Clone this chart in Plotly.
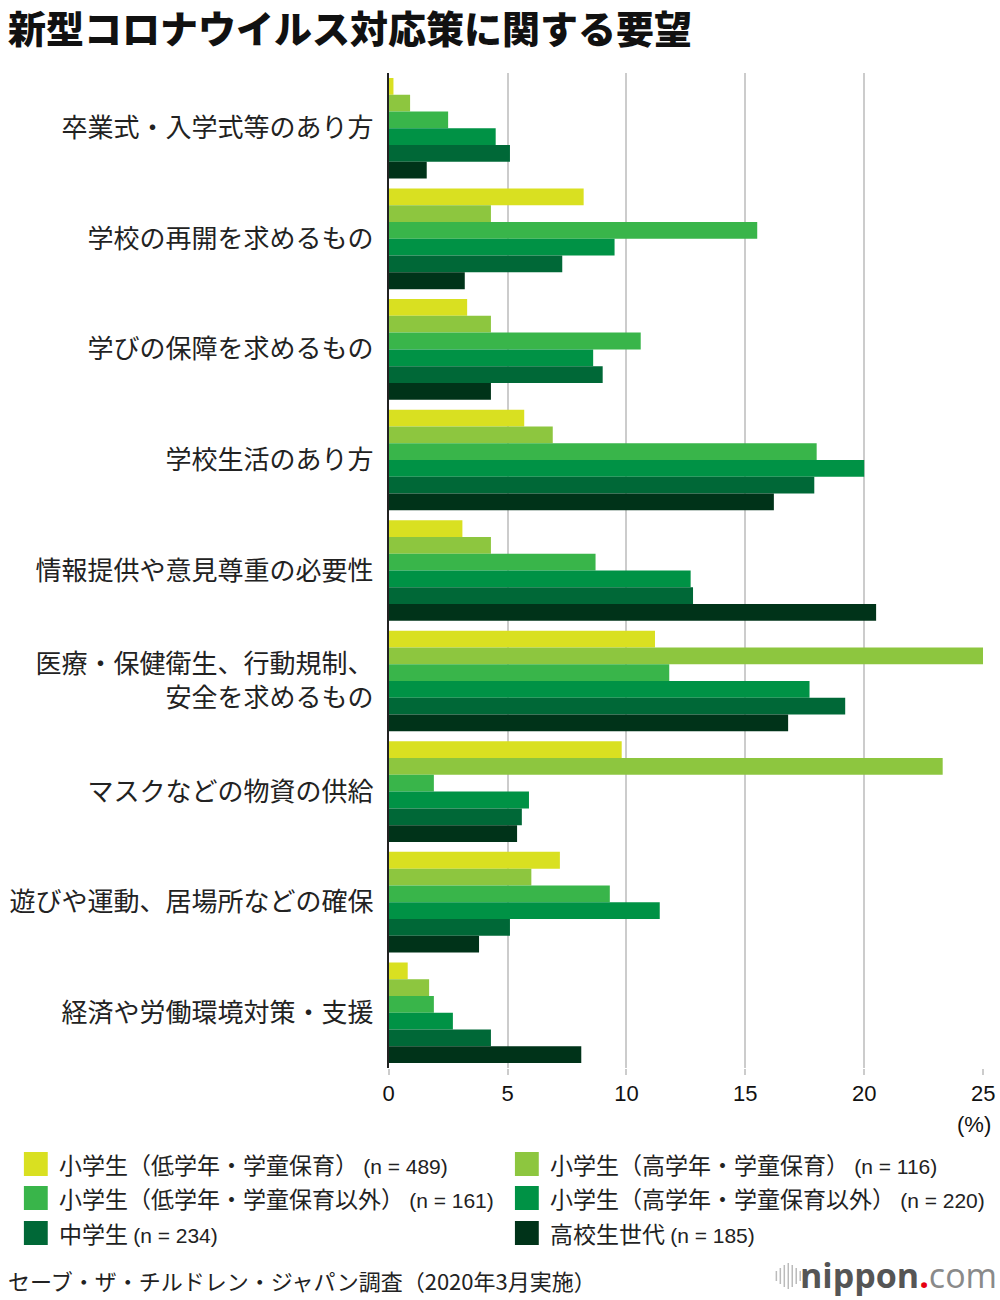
import plotly.graph_objects as go

categories = [
    "卒業式・入学式等のあり方",
    "学校の再開を求めるもの",
    "学びの保障を求めるもの",
    "学校生活のあり方",
    "情報提供や意見尊重の必要性",
    "医療・保健衛生、行動規制、<br>安全を求めるもの",
    "マスクなどの物資の供給",
    "遊びや運動、居場所などの確保",
    "経済や労働環境対策・支援",
]

series_names = [
    "小学生（低学年・学童保育）",
    "小学生（高学年・学童保育）",
    "小学生（低学年・学童保育以外）",
    "小学生（高学年・学童保育以外）",
    "中学生",
    "高校生世代",
]
series_n = ["489", "116", "161", "220", "234", "185"]

low_gakudo = [0.2, 8.2, 3.3, 5.7, 3.1, 11.2, 9.8, 7.2, 0.8]
high_gakudo = [0.9, 4.3, 4.3, 6.9, 4.3, 25.0, 23.3, 6.0, 1.7]
low_other = [2.5, 15.5, 10.6, 18.0, 8.7, 11.8, 1.9, 9.3, 1.9]
high_other = [4.5, 9.5, 8.6, 20.0, 12.7, 17.7, 5.9, 11.4, 2.7]
junior_high = [5.1, 7.3, 9.0, 17.9, 12.8, 19.2, 5.6, 5.1, 4.3]
high_school = [1.6, 3.2, 4.3, 16.2, 20.5, 16.8, 5.4, 3.8, 8.1]

series_values = [low_gakudo, high_gakudo, low_other, high_other, junior_high, high_school]
colors = ["#d9e021", "#8dc63f", "#39b54a", "#009245", "#006837", "#003319"]

x_ticks = [0, 5, 10, 15, 20, 25]
x_ticktext = ["0", "5", "10", "15", "20", ""]   # last label drawn as annotation below
x_last_label = "25"

W, H = 1000, 1300
PX_L, PX_R, PX_T, PX_B = 385, 983, 73, 1068

def fx(px):
    return px / W

def fy(py):
    return 1 - py / H

FONT = "Noto Sans CJK JP"
NUMFONT = "Liberation Sans"

fig = go.Figure()
for name, vals, col in zip(series_names, series_values, colors):
    fig.add_trace(go.Bar(
        y=categories, x=vals, orientation="h", name=name,
        marker=dict(color=col, line=dict(width=0)),
        showlegend=False,
    ))

fig.update_layout(
    width=W, height=H,
    margin=dict(l=0, r=0, t=0, b=0),
    paper_bgcolor="white", plot_bgcolor="white",
    barmode="group", bargap=0.09, bargroupgap=0,
    font=dict(family=FONT, color="#222"),
    xaxis=dict(
        domain=[fx(PX_L), fx(PX_R)], range=[0, 25],
        tickvals=x_ticks, ticktext=x_ticktext,
        showgrid=True, gridcolor="#cccccc", gridwidth=2,
        zeroline=False, showline=False,
        ticks="outside", ticklen=6, tickcolor="#cccccc", tickwidth=2,
        tickfont=dict(family=NUMFONT, size=22, color="#111"),
        ticklabelstandoff=0,
        fixedrange=True,
    ),
    yaxis=dict(
        domain=[fy(PX_B), fy(PX_T)],
        categoryorder="array", categoryarray=categories,
        autorange="reversed",
        showline=True, linecolor="#222", linewidth=2,
        showgrid=False, ticks="", ticklabelstandoff=8,
        tickfont=dict(family=FONT, size=26, color="#222"),
        fixedrange=True,
    ),
)

# last x tick label (kept inside the page)
fig.add_annotation(
    text=x_last_label, xref="x", yref="paper", x=25, y=fy(1093),
    xanchor="center", yanchor="middle", showarrow=False,
    font=dict(family=NUMFONT, size=22, color="#111"),
)

# Title
fig.add_annotation(
    text="新型コロナウイルス対応策に関する要望",
    xref="paper", yref="paper", x=0, y=fy(27),
    xanchor="left", yanchor="middle", showarrow=False,
    font=dict(family=FONT, size=38, color="#111", weight=900),
)

# (%) unit
fig.add_annotation(
    text="(%)", xref="paper", yref="paper", x=fx(993), y=fy(1124),
    xanchor="right", yanchor="middle", showarrow=False,
    font=dict(family=NUMFONT, size=22, color="#111"),
)

# Legend (manual)
legend_pos = [(18, 1164), (512, 1164), (18, 1198), (512, 1198), (18, 1233), (512, 1233)]
for (lx, ly), name, n, col in zip(legend_pos, series_names, series_n, colors):
    fig.add_shape(
        type="rect", xref="paper", yref="paper",
        x0=fx(lx), x1=fx(lx + 24), y0=fy(ly + 12), y1=fy(ly - 12),
        fillcolor=col, line=dict(width=0),
    )
    fig.add_annotation(
        text=f"{name} <span style='font-size:21px;font-family:{NUMFONT}'>(n = {n})</span>",
        xref="paper", yref="paper", x=fx(lx + 33), y=fy(ly),
        xanchor="left", yanchor="middle", showarrow=False,
        font=dict(family=FONT, size=23, color="#222"),
    )

# Source
fig.add_annotation(
    text="セーブ・ザ・チルドレン・ジャパン調査（2020年3月実施）",
    xref="paper", yref="paper", x=0, y=fy(1280),
    xanchor="left", yanchor="middle", showarrow=False,
    font=dict(family=FONT, size=22, color="#222"),
)

# nippon.com logo
bar_x = [775, 779, 783, 787, 791, 795, 799]
bar_h = [10, 16, 22, 26, 22, 16, 10]
for bx, bh in zip(bar_x, bar_h):
    fig.add_shape(
        type="line", xref="paper", yref="paper",
        x0=fx(bx), x1=fx(bx), y0=fy(1276 + bh / 2), y1=fy(1276 - bh / 2),
        line=dict(color="#bbbbbb", width=1.5),
    )
fig.add_annotation(
    text="<b><span style='color:#555555'>nippon</span><span style='color:#e60012'>.</span></b><span style='color:#8a8a8a'>com</span>",
    xref="paper", yref="paper", x=fx(999), y=fy(1275),
    xanchor="right", yanchor="middle", showarrow=False,
    font=dict(family="Open Sans", size=34, color="#555"),
)

post = (
    "document.documentElement.style.margin='0';"
    "document.documentElement.style.overflow='hidden';"
    "document.body.style.margin='0';"
    "document.body.style.overflow='hidden';"
)

fig.write_html(
    "out.html",
    config={"displayModeBar": False},
    post_script=post,
)
